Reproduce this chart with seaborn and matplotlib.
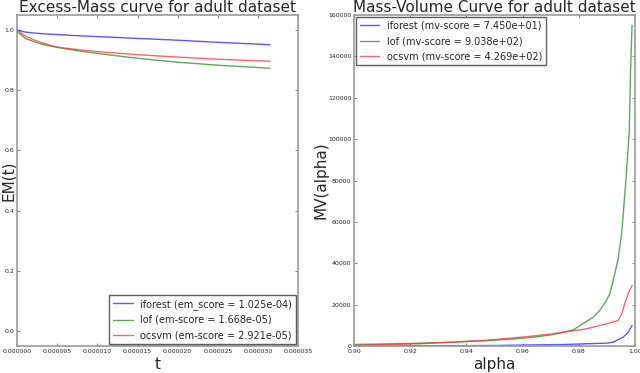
import matplotlib
matplotlib.use("Agg")
import matplotlib.pyplot as plt
from matplotlib.ticker import FormatStrFormatter, MultipleLocator
import seaborn as sns
import pandas as pd

## donnees

# courbe excess-mass (t en unites de 1e-6)
t_em = [0, 1, 2, 3, 4, 5, 7.5, 10, 15, 20, 25, 31.5]
em_iforest = [1.0, 0.993, 0.990, 0.988, 0.986, 0.985, 0.981, 0.978, 0.972, 0.966, 0.959, 0.951]
em_lof = [0.995, 0.972, 0.962, 0.953, 0.947, 0.942, 0.931, 0.922, 0.906, 0.893, 0.883, 0.873]
em_ocsvm = [1.0, 0.980, 0.968, 0.958, 0.950, 0.943, 0.935, 0.928, 0.918, 0.910, 0.903, 0.896]
em_labels = ["iforest (em_score = 1.025e-04)",
             "lof (em-score = 1.668e-05)",
             "ocsvm (em-score = 2.921e-05)"]

# courbe mass-volume
alpha_iforest = [0.90, 0.95, 0.9591, 0.975, 0.9828, 0.990, 0.9923, 0.9958, 0.9975, 0.999]
mv_iforest = [100, 300, 500, 800, 1160, 1450, 1940, 4360, 6500, 10000]
alpha_lof = [0.90, 0.92, 0.9353, 0.95, 0.9591, 0.965, 0.971, 0.978, 0.9828, 0.9852, 0.9875,
             0.9899, 0.9911, 0.9923, 0.9940, 0.9953, 0.9968, 0.998, 0.9985, 0.999]
mv_lof = [800, 1300, 1940, 2900, 3700, 4500, 5600, 7800, 12000, 14000, 17300,
          22100, 25400, 31800, 42000, 54400, 80000, 104000, 135000, 155000]
alpha_ocsvm = [0.90, 0.9235, 0.935, 0.9472, 0.9615, 0.971, 0.9828, 0.9899, 0.9941,
               0.9953, 0.9964, 0.9976, 0.999]
mv_ocsvm = [350, 1160, 1900, 2800, 4600, 6000, 8400, 10800, 12400, 15700, 20500, 25400, 29400]
mv_labels = ["iforest (mv-score = 7.450e+01)",
             "lof (mv-score = 9.038e+02)",
             "ocsvm (mv-score = 4.269e+02)"]

couleurs = ["#2020ff", "#209020", "#ff3030"]

sns.set_style("white")
plt.rcParams['font.family'] = ['DejaVu Sans']

# tableaux longs pour seaborn
lignes = []
for lab, ys in zip(em_labels, [em_iforest, em_lof, em_ocsvm]):
    for t, y in zip(t_em, ys):
        lignes.append({"t": t * 1e-6, "EM": y, "modele": lab})
df_em = pd.DataFrame(lignes)

lignes = []
for lab, xs, ys in zip(mv_labels, [alpha_iforest, alpha_lof, alpha_ocsvm],
                       [mv_iforest, mv_lof, mv_ocsvm]):
    for a, y in zip(xs, ys):
        lignes.append({"alpha": a, "MV": y, "modele": lab})
df_mv = pd.DataFrame(lignes)

fig, (ax1, ax2) = plt.subplots(1, 2, figsize=(6.4, 3.73), dpi=100)
fig.subplots_adjust(left=0.027, right=0.992, bottom=0.072, top=0.96, wspace=0.2)

sns.lineplot(data=df_em, x="t", y="EM", hue="modele", palette=couleurs,
             linewidth=1, alpha=0.75, ax=ax1, sort=False)
sns.lineplot(data=df_mv, x="alpha", y="MV", hue="modele", palette=couleurs,
             linewidth=1, alpha=0.75, ax=ax2, sort=False)

ax1.set_xlim(0, 0.000035)
ax1.set_ylim(-0.05, 1.05)
ax1.xaxis.set_major_locator(MultipleLocator(0.000005))
ax1.xaxis.set_major_formatter(FormatStrFormatter('%.6f'))
ax1.yaxis.set_major_locator(MultipleLocator(0.2))
ax1.yaxis.set_major_formatter(FormatStrFormatter('%.1f'))
ax1.set_title("Excess-Mass curve for adult dataset", fontsize=11, pad=2)
ax1.set_xlabel("t", fontsize=11, labelpad=2)
ax1.set_ylabel("EM(t)", fontsize=11)
ax1.yaxis.set_label_coords(-0.004, 0.5)

ax2.set_xlim(0.90, 1.00)
ax2.set_ylim(0, 160000)
ax2.xaxis.set_major_locator(MultipleLocator(0.02))
ax2.xaxis.set_major_formatter(FormatStrFormatter('%.2f'))
ax2.yaxis.set_major_locator(MultipleLocator(20000))
ax2.yaxis.set_major_formatter(FormatStrFormatter('%d'))
ax2.set_title("Mass-Volume Curve for adult dataset", fontsize=11, pad=2)
ax2.set_xlabel("alpha", fontsize=11, labelpad=2)
ax2.set_ylabel("MV(alpha)", fontsize=11)
ax2.yaxis.set_label_coords(-0.09, 0.5)

for ax in (ax1, ax2):
    ax.tick_params(direction='in', length=2, width=0.5, labelsize=4.5, pad=2,
                   top=True, right=True, bottom=True, left=True, color='#555555')
    for s in ax.spines.values():
        s.set_color('#999999')
        s.set_linewidth(1.2)

leg = ax1.legend(loc='lower right', fontsize=7, borderaxespad=0.2, handlelength=2,
                 labelspacing=0.55, frameon=True, fancybox=False)
leg.get_frame().set_edgecolor('#333333')
leg.get_frame().set_linewidth(1)
leg = ax2.legend(loc='upper left', fontsize=7, borderaxespad=0.2, handlelength=2,
                 labelspacing=0.55, frameon=True, fancybox=False)
leg.get_frame().set_edgecolor('#333333')
leg.get_frame().set_linewidth(1)

plt.savefig("out.png", dpi=100)
